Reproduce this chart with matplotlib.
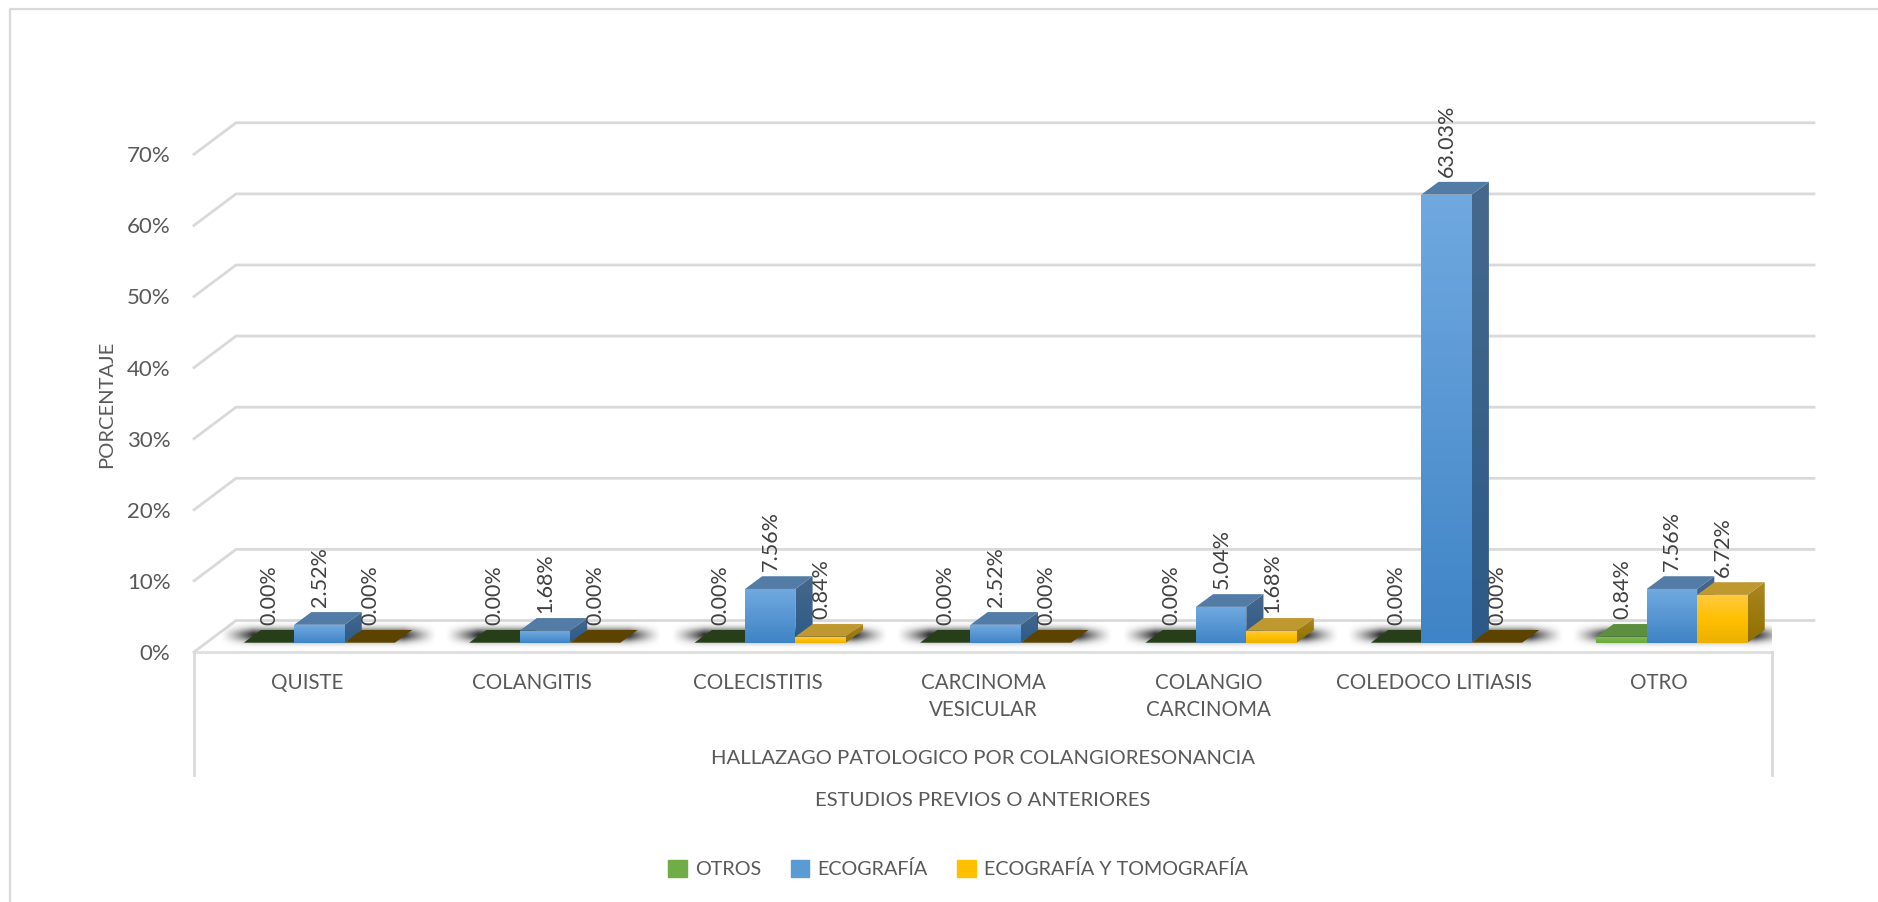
import matplotlib
matplotlib.use('Agg')
from matplotlib import pyplot as plt
from matplotlib.patches import Polygon, Patch
import numpy as np

categorias = ['QUISTE', 'COLANGITIS', 'COLECISTITIS', 'CARCINOMA\nVESICULAR',
              'COLANGIO\nCARCINOMA', 'COLEDOCO LITIASIS', 'OTRO']
otros = [0.00, 0.00, 0.00, 0.00, 0.00, 0.00, 0.84]
ecografia = [2.52, 1.68, 7.56, 2.52, 5.04, 63.03, 7.56]
eco_tomo = [0.00, 0.00, 0.84, 0.00, 1.68, 0.00, 6.72]
series_nombres = ['OTROS', 'ECOGRAFÍA', 'ECOGRAFÍA Y TOMOGRAFÍA']
y_ticks = [0, 10, 20, 30, 40, 50, 60, 70]

W, H = 1878, 902
GRIS = '#595959'
plt.rcParams['font.family'] = ['Lato', 'DejaVu Sans']

fig = plt.figure(figsize=(W / 100, H / 100), dpi=100)
# el plano frontal va de x=194 a 1772 px, y de 652 (0%) a 154 (70%)
ax = fig.add_axes([194 / W, (H - 652) / H, (1772 - 194) / W, (652 - 154.3) / H])
px_x = 7 / (1772 - 194)
px_y = 70 / (652 - 154.3)

# desplazamientos del falso 3D
pared_dx, pared_dy = 42 * px_x, 31.5 * px_y
base = 9.3 * px_y
ancho = 50.4 * px_x
prof_dx, prof_dy = 17.2 * px_x, 12.7 * px_y
inicio = 0.2207

# marco exterior, solo arriba y a la izquierda
fig.add_artist(plt.Line2D([10 / W, 10 / W, 1878 / W], [0, 1 - 9 / H, 1 - 9 / H], color='#d9d9d9', lw=1.6))

# paredes y piso
for v in y_ticks:
    ax.plot([0, pared_dx, 7 + pared_dx], [v, v + pared_dy, v + pared_dy], color='#d9d9d9', lw=2,
            clip_on=False, zorder=1, solid_joinstyle='miter')
ax.plot([0, 7], [0, 0], color='#e0e0e0', lw=2.2, clip_on=False, zorder=1)
piso = Polygon([(0, 0), (7, 0), (7 + pared_dx, pared_dy), (pared_dx, pared_dy)], closed=True, fc='none', ec='none',
               transform=ax.transData)
ax.add_patch(piso)

# sombra sobre el piso
for i in range(7):
    xs = np.linspace(0, 1, 200)
    ys = np.linspace(-1, 1, 40)
    a_x = np.clip(np.minimum(xs, 1 - xs) / 0.15, 0, 1) ** 1.3
    a_y = np.exp(-(ys / 0.45) ** 2)
    rgba = np.zeros((40, 200, 4))
    rgba[..., 3] = np.outer(a_y, a_x) * 0.8
    im = ax.imshow(rgba, extent=[i + 0.115, i + 1.075, 0.3, 4.5], aspect='auto', zorder=2, interpolation='bilinear')
    im.set_clip_path(piso)


def cara(puntos, colores, z):
    # cara lateral o frontal con degradado vertical
    tramo = np.array([matplotlib.colors.to_rgb(c) for c in colores])
    pos = np.linspace(0, 1, 64)
    grad = np.stack([np.interp(pos, np.linspace(0, 1, len(colores)), tramo[:, k]) for k in range(3)], axis=1)[:, None, :]
    xs = [p[0] for p in puntos]
    ys = [p[1] for p in puntos]
    im = ax.imshow(grad, extent=[min(xs), max(xs), min(ys), max(ys)], aspect='auto', zorder=z)
    pol = Polygon(puntos, closed=True, transform=ax.transData, fc='none', ec='none')
    ax.add_patch(pol)
    im.set_clip_path(pol)


estilos = [
    {'frente': ('#7cbb52', '#68a83f'), 'tope': '#5e8f3f', 'lado': ('#4d7a30', '#456d2b'), 'cero': '#263f18'},
    {'frente': ('#70a9e0', '#3f84c6'), 'tope': '#527ca6', 'lado': ('#46688c', '#2c5a88'), 'cero': '#263f18'},
    {'frente': ('#ffc93f', '#ffc000', '#ecb000'), 'tope': '#c09830', 'lado': ('#aa8720', '#8f6f00'), 'cero': '#5c4400'},
]
series = [otros, ecografia, eco_tomo]
z = 3
for i in range(7):
    for s, valores in enumerate(series):
        v = valores[i]
        est = estilos[s]
        x0 = i + inicio + s * ancho
        x1 = x0 + ancho
        if v == 0:
            ax.add_patch(Polygon([(x0, base), (x1, base), (x1 + prof_dx, base + prof_dy), (x0 + prof_dx, base + prof_dy)],
                                 closed=True, fc=est['cero'], ec='none', zorder=z))
        else:
            top = base + v
            barra = ax.bar(x0, v, width=ancho, bottom=base, align='edge', color=est['frente'][-1], zorder=z)[0]
            cara(barra.get_corners().tolist(), est['frente'], z + 0.1)
            cara([(x1, base), (x1 + prof_dx, base + prof_dy), (x1 + prof_dx, top + prof_dy), (x1, top)],
                 est['lado'], z + 0.1)
            ax.add_patch(Polygon([(x0, top), (x1, top), (x1 + prof_dx, top + prof_dy), (x0 + prof_dx, top + prof_dy)],
                                 closed=True, fc=est['tope'], ec='none', zorder=z + 0.1))
        ax.text(x0 + ancho / 2 + 0.002, base + v + prof_dy + 0.7, '%.2f%%' % v, rotation=90, ha='center', va='bottom',
                fontsize=15.5, color='#404040', zorder=200, clip_on=False)
        z += 1

ax.set_xlim(0, 7)
ax.set_ylim(0, 70)
ax.set_xticks([])
ax.set_yticks(y_ticks)
ax.set_yticklabels(['%d%%' % v for v in y_ticks], fontsize=16, color=GRIS)
ax.tick_params(axis='y', length=0, pad=17)
ax.patch.set_alpha(0)
for sp in ax.spines.values():
    sp.set_visible(False)
ax.set_ylabel('PORCENTAJE', fontsize=14.5, color=GRIS, va='center')
ax.yaxis.set_label_coords((107 - 194) / (1772 - 194), (652 - 404.5) / (652 - 154.3))

# eje de categorias en varios niveles
for x in [0, 7]:
    ax.plot([x, x], [0, -123 * px_y], color='#d9d9d9', lw=2, clip_on=False)
for i, c in enumerate(categorias):
    ax.text(i + 0.5, -21 * px_y, c, ha='center', va='top', fontsize=14.8, color=GRIS, linespacing=1.45, clip_on=False)
ax.text(3.5, -107 * px_y, 'HALLAZAGO PATOLOGICO POR COLANGIORESONANCIA', ha='center', va='center',
        fontsize=14.6, color=GRIS, clip_on=False)
ax.text(3.5, -148 * px_y, 'ESTUDIOS PREVIOS O ANTERIORES', ha='center', va='center',
        fontsize=14.6, color=GRIS, clip_on=False)

colores = ['#70ad47', '#5b9bd5', '#ffc000']
fig.legend(handles=[Patch(color=c, label=n) for c, n in zip(colores, series_nombres)], ncols=3,
           loc='center', bbox_to_anchor=(958 / W, 1 - 869 / H), frameon=False, fontsize=14.2, labelcolor=GRIS,
           handlelength=0.95, handleheight=0.95, handletextpad=0.4, columnspacing=1.5)

fig.savefig('out.png', dpi=100)
